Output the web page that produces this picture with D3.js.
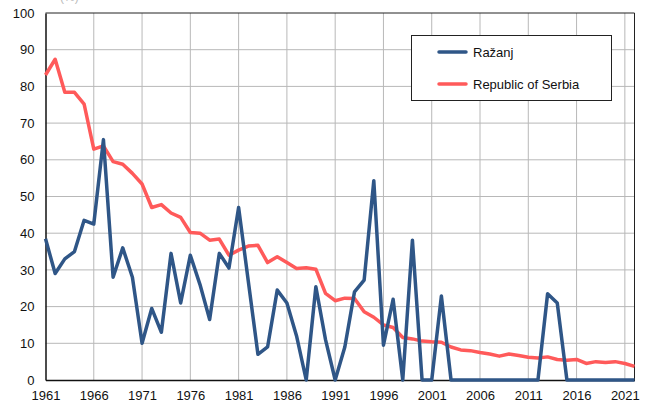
<!DOCTYPE html>
<html><head><meta charset="utf-8">
<script src="https://cdn.jsdelivr.net/npm/d3@7"></script>
<style>body{margin:0;background:#fff;} text{font-family:"Liberation Sans",Arial,sans-serif;}</style>
</head><body><svg id="c" width="645" height="410"></svg>
<script>
const years = d3.range(1961, 2023);
const razanj = [38.5,29,33,35,43.5,42.5,65.5,28,36,28,10,19.5,13,34.5,21,34,26,16.5,34.5,30.5,47,27,7,9,24.5,21,12,0,25.4,11,0,9,24,27.2,54.3,9.5,22,0,38.1,0,0,22.9,0,0,0,0,0,0,0,0,0,0,23.5,21,0,0,0,0,0,0,0,0];
const serbia = [83.1,87.4,78.4,78.4,75.2,62.9,63.8,59.5,58.8,56.3,53.4,47,47.8,45.5,44.3,40.2,40,38.1,38.4,34,35.4,36.5,36.7,32,33.6,32,30.4,30.6,30.2,23.6,21.6,22.3,22.2,18.6,17.1,15,14.3,11.6,11.2,10.6,10.4,10.3,9,8.2,8,7.5,7.1,6.5,7.1,6.7,6.2,6,6.3,5.6,5.4,5.6,4.5,5,4.8,5,4.5,3.7];
const xTicks = [1961,1966,1971,1976,1981,1986,1991,1996,2001,2006,2011,2016,2021];
const yTicks = [0,10,20,30,40,50,60,70,80,90,100];
const seriesNames = ["Ražanj","Republic of Serbia"];
const colors = ["#2f5687","#ff5a5a"];

const svg = d3.select("#c");
const L=45.5, R=634.5, T=13, B=380;
const x = d3.scaleLinear().domain([1961,2022]).range([L,R]);
const y = d3.scaleLinear().domain([0,100]).range([B,T]);

// faint unit label at top (mostly cut off, as in the reference)
svg.append("text").attr("x",60).attr("y",1).attr("fill","#bbb").attr("font-size",12).text("(%)");

// grid
svg.append("g").selectAll("line").data(yTicks.filter(d=>d>0&&d<100)).join("line")
  .attr("x1",L).attr("x2",R).attr("y1",d=>y(d)).attr("y2",d=>y(d)).attr("stroke","#b8b8b8").attr("stroke-width",1);
svg.append("g").selectAll("line").data(xTicks.filter(d=>d>1961)).join("line")
  .attr("x1",d=>x(d)).attr("x2",d=>x(d)).attr("y1",T).attr("y2",B).attr("stroke","#b8b8b8").attr("stroke-width",1);

// border
svg.append("line").attr("x1",L).attr("x2",R).attr("y1",T).attr("y2",T).attr("stroke","#222").attr("stroke-width",1);
svg.append("line").attr("x1",R).attr("x2",R).attr("y1",T).attr("y2",B).attr("stroke","#222").attr("stroke-width",1);

// axes
const xa = svg.append("g").attr("transform",`translate(0,${B})`)
  .call(d3.axisBottom(x).tickValues(xTicks).tickFormat(d3.format("d")).tickSize(0).tickPadding(11));
xa.select(".domain").attr("stroke","#111").attr("stroke-width",1.5);
xa.selectAll("text").attr("font-size",13).attr("fill","#111").style("font-family","Liberation Sans, Arial, sans-serif");
const ya = svg.append("g").attr("transform",`translate(${L},0)`)
  .call(d3.axisLeft(y).tickValues(yTicks).tickSize(0).tickPadding(11));
ya.select(".domain").attr("stroke","#111").attr("stroke-width",1.5);
ya.selectAll("text").attr("font-size",13).attr("fill","#111").style("font-family","Liberation Sans, Arial, sans-serif");

// lines
const line = d3.line().x((d,i)=>x(years[i])).y(d=>y(d));
[serbia, razanj].forEach((s,k)=>{
  svg.append("path").datum(s).attr("d",line).attr("fill","none")
    .attr("stroke", k===0?colors[1]:colors[0]).attr("stroke-width",3.5).attr("stroke-linejoin","round");
});

// legend
const lg = svg.append("g");
lg.append("rect").attr("x",411.5).attr("y",35.5).attr("width",200).attr("height",65).attr("fill","#fff").attr("stroke","#222").attr("stroke-width",1);
seriesNames.forEach((n,i)=>{
  const yy = 52 + i*32;
  lg.append("line").attr("x1",439).attr("x2",466).attr("y1",yy).attr("y2",yy).attr("stroke",colors[i]).attr("stroke-width",3.5).attr("stroke-linecap","round");
  lg.append("text").attr("x",473).attr("y",yy+4.5).attr("font-size",13).attr("fill","#111").text(n);
});
</script></body></html>
